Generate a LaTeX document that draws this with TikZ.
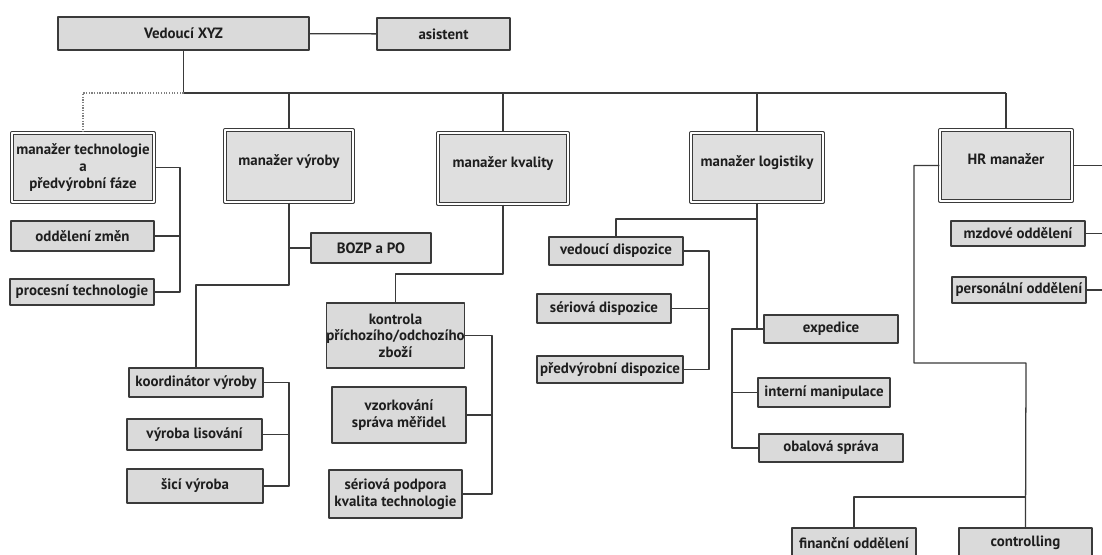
\documentclass[tikz,border=0pt]{standalone}
\usepackage{fontspec}
\setmainfont{PT Sans}
\definecolor{boxc}{HTML}{DADADA}
\definecolor{mgrc}{HTML}{DFDFDF}
\definecolor{linec}{HTML}{3A3A3A}
\definecolor{textc}{HTML}{1E1E1E}
\begin{document}
\begin{tikzpicture}[x=0.025cm, y=-0.025cm, line join=round, font=\bfseries\fontsize{10.6}{11.8}\selectfont]
	\tikzset{
		box/.style={draw=linec, fill=boxc, line width=0.8pt, inner sep=1pt, align=center, text=textc},
		mgr/.style={box, fill=mgrc, double=white, double distance=1.3pt, line width=0.75pt},
		lift/.style={text height=8.5pt, text depth=9.9pt},
		sz/.style 2 args={minimum width=#1*0.025cm, minimum height=#2*0.025cm},
		conn/.style={draw=linec, line width=0.9pt}
	}
	\useasboundingbox (0,0) rectangle (1102,554);
	\clip (0,0) rectangle (1102,554);
	
	\node[box, sz={251}{33}] (boss) at (183.5,33.5) {Vedoucí XYZ};
	\node[box, sz={133}{32}] (asist) at (443.5,34) {asistent};
	
	\node[mgr, sz={142}{69}] (mtech) at (83,167.5) {manažer technologie\\a\\předvýrobní fáze};
	\node[mgr, lift, sz={128}{72}] (mvyr) at (289,166) {manažer výroby};
	\node[mgr, lift, sz={130}{71}] (mkval) at (503,168.5) {manažer kvality};
	\node[mgr, lift, sz={132}{69}] (mlog) at (757,167.5) {manažer logistiky};
	\node[mgr, lift, sz={132}{71}] (mhr) at (1006,165.5) {HR manažer};
	
	\node[box, sz={143}{30}] (zmen) at (82.5,236) {oddělení změn};
	\node[box, sz={144}{26}] (proc) at (82,292) {procesní technologie};
	
	\node[box, sz={120}{30}] (bozp) at (371,248) {BOZP a PO};
	\node[box, sz={134}{29}] (koord) at (196,382.5) {koordinátor výroby};
	\node[box, sz={135}{31}] (lis) at (194.5,434.5) {výroba lisování};
	\node[box, sz={136}{34}] (sici) at (195,486) {šicí výroba};
	
	\node[box, sz={137}{65}, inner sep=0pt] (kontr) at (395.5,335.5) {kontrola\\příchozího/odchozího\\zboží};
	\node[box, sz={134}{56}] (vzork) at (399,415) {vzorkování\\správa měřidel};
	\node[box, sz={133}{48}] (serpod) at (395.5,494) {sériová podpora\\kvalita technologie};
	
	\node[box, sz={134}{28}] (vedd) at (616,251) {vedoucí dispozice};
	\node[box, sz={134}{29}] (serd) at (604,308.5) {sériová dispozice};
	\node[box, sz={146}{27}] (predd) at (610,369.5) {předvýrobní dispozice};
	\node[box, sz={134}{28}] (exped) at (831,329) {expedice};
	\node[box, sz={132}{29}] (intm) at (824,392.5) {interní manipulace};
	\node[box, sz={144}{28}] (obal) at (831,448) {obalová správa};
	
	\node[box, sz={134}{25}] (mzd) at (1018,233.5) {mzdové oddělení};
	\node[box, sz={134}{26}] (pers) at (1019,290) {personální oddělení};
	\node[box, sz={124}{30}] (fin) at (854,543) {finanční oddělení};
	\node[box, sz={133}{30}] (ctrl) at (1025.5,543) {controlling};
	
	% top level
	\coordinate (bus) at (boss.south |- 0,93);
	\draw[conn] (boss) -- (asist);
	\draw[conn] (boss.south) -- (bus);
	\draw[conn, line width=1.7pt] (bus) -- (bus -| mlog.north);
	\draw[conn] (bus -| mlog.north) -- (bus -| mhr.north);
	\foreach \m in {mvyr,mkval,mlog,mhr}
	\draw[conn] (bus -| \m.north) -- (\m.north);
	\draw[conn, draw=gray, densely dotted] (bus) -| (mtech.north);
	
	% technologie
	\draw[conn] (mtech.east) -- (mtech.east -| 180,0) |- (proc.east);
	\draw[conn] (zmen.east) -- (zmen.east -| 180,0);
	
	% vyroba
	\draw[conn] (mvyr.south) -- (mvyr.south |- 0,285) -| (koord.north);
	\draw[conn] (bozp.west) -- (bozp.west -| mvyr.south);
	\draw[conn] (koord.east) -- (koord.east -| 289,0) |- (sici.east);
	\draw[conn] (lis.east) -- (lis.east -| 289,0);
	
	% kvalita
	\draw[conn] (mkval.south) -- (mkval.south |- 0,274) -| (kontr.north);
	\draw[conn] (kontr.east) -- (kontr.east -| 492,0) |- (serpod.east);
	\draw[conn] (vzork.east) -- (vzork.east -| 492,0);
	
	% logistika
	\draw[conn] (mlog.south) -- (mlog.south |- exped.west);
	\draw[conn] (mlog.south |- 0,219) -| (vedd.north);
	\draw[conn] (vedd.east) -- (vedd.east -| 709,0) |- (predd.east);
	\draw[conn] (serd.east) -- (serd.east -| 709,0);
	\draw[conn] (exped.west) -- (exped.west -| 732,0) |- (obal.west);
	\draw[conn] (intm.west) -- (intm.west -| 732,0);
	
	% HR
	\draw[conn] (mhr.west) -- (mhr.west -| 914,0) |- (1026,363) -- (ctrl.north);
	\draw[conn] (ctrl.north |- 0,497) -| (fin.north);
	\foreach \m in {mhr,mzd,pers}
	\draw[conn] (\m.east) -- (\m.east -| 1110,0);
\end{tikzpicture}
\end{document}
